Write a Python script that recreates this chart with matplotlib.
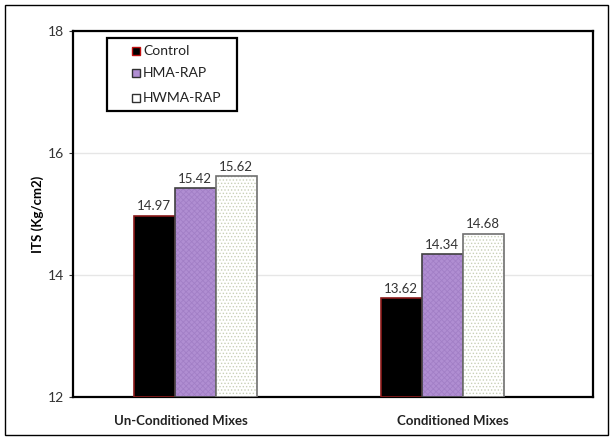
import matplotlib.pyplot as plt
import numpy as np
from matplotlib.patches import Rectangle
from matplotlib.colors import to_rgba

plt.rcParams['font.family'] = ['Lato', 'DejaVu Sans']
plt.rcParams['hatch.linewidth'] = 0.6

groups = ['Un-Conditioned Mixes', 'Conditioned Mixes']
series = ['Control', 'HMA-RAP', 'HWMA-RAP']
control = [14.97, 13.62]
hma = [15.42, 14.34]
hwma = [15.62, 14.68]

fig = plt.figure(figsize=(6.12, 4.40), dpi=100)
fig.patches.append(Rectangle((0.008, 0.011), 0.985, 0.978, transform=fig.transFigure,
                             fill=False, edgecolor='black', linewidth=1.0))
ax = fig.add_axes([0.1193, 0.0977, 0.8497, 0.8318])

x = np.array([0, 1])
w = 0.166
fills = ['black', '#B08ED2', 'white']
edges = ['#8B1A1A', '#404040', '#707070']
hatches = [None, 'xxxxxx', '.....']
hatch_col = [None, '#A27FC6', '#C8D0B8']
vals = [control, hma, hwma]
for i, v in enumerate(vals):
    pos = x + (i - 1) * w
    bars = ax.bar(pos, np.array(v) - 12, w, bottom=12, color=fills[i],
                  edgecolor=edges[i], linewidth=1.2, zorder=3)
    if hatches[i]:
        for b in bars:
            b.set_hatch(hatches[i])
            b._hatch_color = to_rgba(hatch_col[i])
    for p, val in zip(pos, v):
        ax.text(p, val + 0.06, f'{val:.2f}', ha='center', va='bottom',
                fontsize=9.5, color='#333333')

ax.set_xlim(-0.494, 1.611)
ax.set_ylim(12, 18)
ax.set_yticks([12, 14, 16, 18])
ax.tick_params(axis='y', labelsize=10, colors='#333333', length=3, width=0.8)
ax.set_xticks([-0.057, 1.045])
ax.set_xticklabels(groups, fontsize=9.5, fontweight='bold', color='#222222')
ax.tick_params(axis='x', length=0, pad=13)
ax.yaxis.grid(True, color='#E6E6E6', linewidth=1.0, zorder=0)
ax.set_axisbelow(True)
for s in ax.spines.values():
    s.set_linewidth(1.6)
    s.set_color('black')
ax.set_ylabel('ITS (Kg/cm2)', fontsize=9.5, fontweight='bold', labelpad=3)

# legend drawn by hand so the box matches the original size
ax.add_patch(Rectangle((0.065, 0.781), 0.25, 0.2, transform=ax.transAxes,
                       facecolor='white', edgecolor='black', linewidth=1.6, zorder=5))
leg_y = [0.945, 0.885, 0.817]
leg_edges = ['#C01010', '#303030', '#303030']
for i, name in enumerate(series):
    ax.add_patch(Rectangle((0.114, leg_y[i] - 0.011), 0.015, 0.022, transform=ax.transAxes,
                           facecolor=fills[i], edgecolor=leg_edges[i], linewidth=1.0, zorder=6))
    ax.text(0.135, leg_y[i], name, transform=ax.transAxes, ha='left', va='center',
            fontsize=10, color='#222222', zorder=6)

fig.savefig('out.png', dpi=100)
